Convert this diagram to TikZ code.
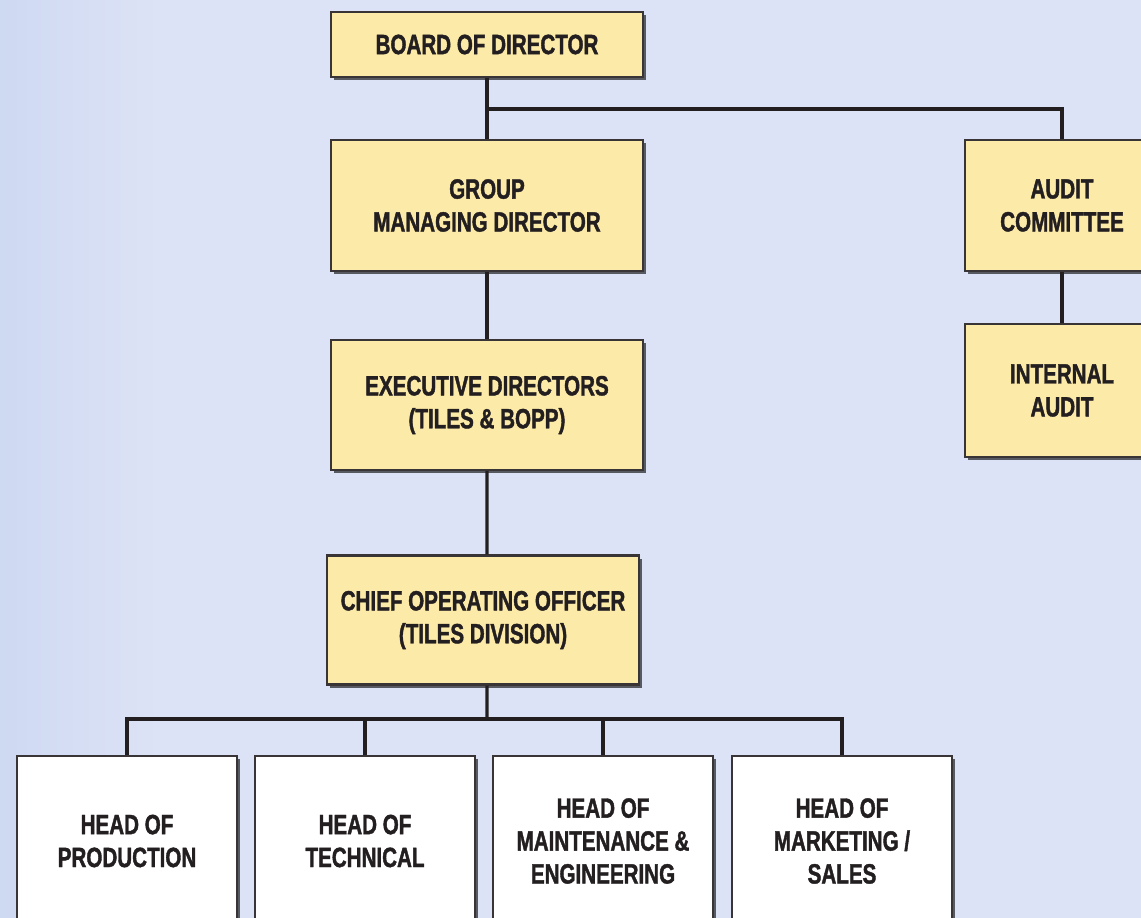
\documentclass[tikz,border=0pt]{standalone}
\usepackage{fontspec}
\setmainfont{Liberation Sans}[FakeStretch=0.74,FakeBold=1.4]
\usetikzlibrary{shadows}
\definecolor{bgblue}{RGB}{221,227,246}
\definecolor{bgleft}{RGB}{206,217,242}
\definecolor{boxyellow}{RGB}{252,234,168}
\definecolor{inkdark}{RGB}{35,31,32}

\begin{document}
\begin{tikzpicture}[x=0.025cm,y=-0.025cm]
\tikzstyle{every node}=[font=\bfseries\fontsize{19.8}{23.4}\selectfont,text=inkdark,align=center,inner sep=0pt];
\tikzstyle{post}=[draw=inkdark!90,line width=1.6pt,fill=boxyellow,minimum width=7.8cm,
  drop shadow={shadow xshift=0.08cm,shadow yshift=-0.08cm,fill=black,opacity=0.6}];
\tikzstyle{audit}=[post,minimum width=4.85cm];
\tikzstyle{head}=[post,fill=white,minimum width=5.5cm,minimum height=4.25cm];
\tikzstyle{link}=[draw=inkdark,line width=2.3pt];

% background
\useasboundingbox (0,0) rectangle (1141,918);
\fill[bgblue] (0,0) rectangle (1141,918);
\shade[left color=bgleft,right color=bgblue] (0,0) rectangle (160,918);

% main column
\node[post,minimum height=1.625cm] (board) at (487,44.5) {BOARD OF DIRECTOR};
\node[post,minimum height=3.275cm] (gmd) at (487,205.5) {GROUP\\MANAGING DIRECTOR};
\node[post,minimum height=3.25cm] (exec) at (487,405) {EXECUTIVE DIRECTORS\\(TILES \& BOPP)};
\node[post,minimum height=3.225cm] (coo) at (483,620) {CHIEF OPERATING OFFICER\\(TILES DIVISION)};

% audit branch
\node[audit,minimum height=3.275cm] (audit) at (1062,205.5) {AUDIT\\COMMITTEE};
\node[audit,minimum height=3.325cm] (internal) at (1062,390.5) {INTERNAL\\AUDIT};

% heads
\node[head] (production) at (127,841) {HEAD OF\\PRODUCTION};
\node[head] (technical) at (365,841) {HEAD OF\\TECHNICAL};
\node[head] (maintenance) at (603,841) {HEAD OF\\MAINTENANCE \&\\ENGINEERING};
\node[head] (marketing) at (842,841) {HEAD OF\\MARKETING /\\SALES};

% connectors
\coordinate (split) at (487,109);
\coordinate (bus) at (487,719);
\draw[link] (board.south) -- (gmd.north);
\draw[link] (split) -| (audit.north);
\draw[link] (gmd.south) -- (exec.north);
\draw[link] (exec.south) -- ([xshift=0.1cm]coo.north);
\draw[link] (audit.south) -- (internal.north);
\draw[link] ([xshift=0.1cm]coo.south) -- (bus);
\foreach \n in {production,technical,maintenance,marketing}
  \draw[link] (bus) -| (\n.north);
\end{tikzpicture}
\end{document}
